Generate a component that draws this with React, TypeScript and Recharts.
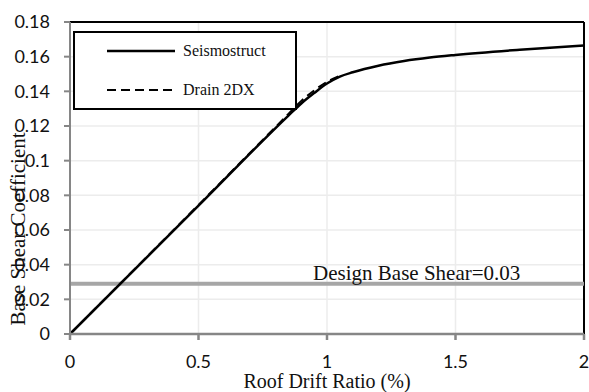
import React from 'react';
import { LineChart, Line, XAxis, YAxis, CartesianGrid, ReferenceLine } from 'recharts';

const seismoX = [0, 0.5, 0.85, 0.9, 0.95, 1.0, 1.05, 1.1, 1.2, 1.3, 1.4, 1.5, 1.75, 2.0];
const seismoY = [0, 0.074, 0.126, 0.133, 0.139, 0.1445, 0.1485, 0.151, 0.1548, 0.1575, 0.1595, 0.161, 0.164, 0.1665];
const drainX = [0, 0.5, 0.85, 0.9, 0.95, 1.0, 1.05];
const drainY = [0, 0.0745, 0.127, 0.1345, 0.1405, 0.1455, 0.149];
const xTicks = [0, 0.5, 1, 1.5, 2];
const yTicks = [0, 0.02, 0.04, 0.06, 0.08, 0.1, 0.12, 0.14, 0.16, 0.18];
const designBaseShear = 0.029;
const seriesNames = ['Seismostruct', 'Drain 2DX'];
const xTitle = 'Roof Drift Ratio (%)';
const yTitle = 'Base Shear Coefficient';
const refLabel = 'Design Base Shear=0.03';

const seismoData = seismoX.map((x, i) => ({ x, y: seismoY[i] }));
const drainData = drainX.map((x, i) => ({ x, y: drainY[i] }));

const serif = '"Liberation Serif", "Times New Roman", serif';
const sans = 'Lato, "Noto Sans", sans-serif';

export default function App() {
  return (
    <div style={{ position: 'absolute', left: 0, top: 0, width: 589, height: 392, background: '#fff' }}>
      <LineChart width={589} height={392} margin={{ top: 22, right: 5, bottom: 0, left: 0 }}>
        <CartesianGrid stroke="#ececec" strokeWidth={1.5} />
        <XAxis
          type="number"
          dataKey="x"
          domain={[0, 2]}
          ticks={xTicks}
          height={58}
          tickSize={6}
          tickMargin={15}
          stroke="#868686"
          strokeWidth={2.5}
          tick={{ fontFamily: sans, fontSize: 18, fill: '#111' }}
          allowDuplicatedCategory={false}
          label={{
            content: (props: any) => {
              const vb = props.viewBox;
              return (
                <text x={vb.x + vb.width / 2} y={388} textAnchor="middle" fontFamily={serif} fontSize={20} fill="#111">
                  {xTitle}
                </text>
              );
            },
          }}
        />
        <YAxis
          type="number"
          domain={[0, 0.18]}
          ticks={yTicks}
          width={70}
          tickSize={6}
          tickMargin={14}
          stroke="#868686"
          strokeWidth={2}
          tick={{ fontFamily: sans, fontSize: 18, fill: '#111' }}
          tickFormatter={(v: number) => String(v)}
          label={{
            content: () => (
              <text
                x={18}
                y={229}
                transform="rotate(-90 18 229)"
                textAnchor="middle"
                dominantBaseline="central"
                fontFamily={serif}
                fontSize={21}
                fill="#111"
              >
                {yTitle}
              </text>
            ),
          }}
        />
        <ReferenceLine y={0.18} stroke="#000" strokeWidth={2} />
        <ReferenceLine x={2} stroke="#000" strokeWidth={2} />
        <ReferenceLine
          y={designBaseShear}
          stroke="#a6a6a6"
          strokeWidth={4}
          label={{
            content: (props: any) => {
              const vb = props.viewBox;
              return (
                <text x={vb.x + vb.width * 0.473} y={vb.y - 4} fontFamily={serif} fontSize={21} fill="#111">
                  {refLabel}
                </text>
              );
            },
          }}
        />
        <Line
          data={drainData}
          dataKey="y"
          name={seriesNames[1]}
          type="monotone"
          stroke="#000"
          strokeWidth={2}
          strokeDasharray="9 5"
          dot={false}
          isAnimationActive={false}
        />
        <Line
          data={seismoData}
          dataKey="y"
          name={seriesNames[0]}
          type="monotone"
          stroke="#000"
          strokeWidth={2.5}
          dot={false}
          isAnimationActive={false}
        />
      </LineChart>
      <svg width={224} height={79} style={{ position: 'absolute', left: 73, top: 31 }}>
        <rect x={1} y={1} width={222} height={77} fill="#fff" stroke="#000" strokeWidth={2} />
        <line x1={34} x2={102} y1={20} y2={20} stroke="#000" strokeWidth={2.5} />
        <text x={110} y={25} fontFamily={serif} fontSize={16} fill="#111">{seriesNames[0]}</text>
        <line x1={34} x2={102} y1={59} y2={59} stroke="#000" strokeWidth={2} strokeDasharray="9 5" />
        <text x={110} y={64} fontFamily={serif} fontSize={16} fill="#111">{seriesNames[1]}</text>
      </svg>
    </div>
  );
}
